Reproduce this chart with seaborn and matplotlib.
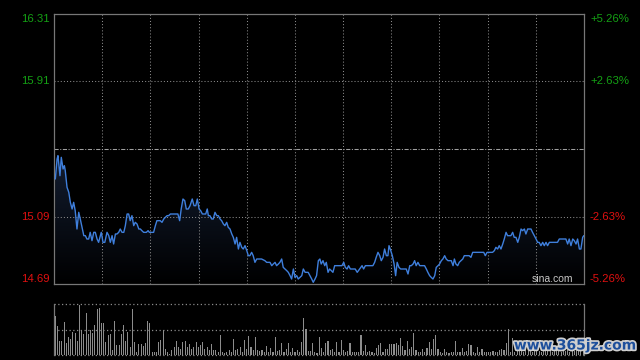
import numpy as np
import pandas as pd
import matplotlib
matplotlib.use("Agg")
import matplotlib.pyplot as plt
import seaborn as sns
from matplotlib.colors import LinearSegmentedColormap
from matplotlib import patheffects as pe

# ---------------- data ----------------
prev_close = 15.50
y_min, y_max = 14.69, 16.31
left_ticks = [16.31, 15.91, 15.09, 14.69]
left_labels = ["16.31", "15.91", "15.09", "14.69"]
right_labels = ["+5.26%", "+2.63%", "-2.63%", "-5.26%"]
label_colors = ["#14a014", "#14a014", "#e01010", "#e01010"]

minute = [
    0.6, 1.4, 1.8, 2.7, 3.3, 4.1, 4.7, 5.1, 5.9, 6.7,
    7.4, 8.2, 8.9, 9.6, 10.4, 11.2, 11.9, 12.7, 13.5, 14.2,
    14.9, 15.7, 16.4, 17.2, 18.0, 18.7, 19.5, 20.2, 21.4, 22.2,
    23.0, 24.0, 24.8, 25.5, 26.3, 27.0, 27.8, 28.5, 29.3, 30.0,
    30.8, 31.6, 32.3, 33.1, 33.8, 34.5, 35.3, 36.1, 36.8, 37.6,
    38.4, 39.1, 39.8, 40.6, 41.8, 42.6, 43.2, 44.4, 45.1, 45.9,
    46.6, 47.4, 48.1, 48.9, 49.7, 50.4, 51.2, 51.9, 52.7, 53.4,
    54.9, 56.1, 56.9, 57.6, 58.4, 59.2, 59.9,
    60.8, 61.6, 62.6, 63.4, 64.2, 64.9, 65.7, 66.4, 67.2, 67.9,
    68.7, 69.4, 69.9, 70.6, 71.4, 72.1, 72.9, 73.7, 74.4, 75.2,
    75.9, 76.7, 77.4, 78.2, 78.9, 79.7, 80.5, 81.2, 82.0, 82.7,
    83.5, 84.2, 85.0, 85.7, 86.5, 87.3, 88.0, 88.7, 89.5, 90.2,
    91.0, 91.8, 92.5, 94.0, 95.5, 96.3, 97.8, 98.6, 99.3, 100.1,
    100.8, 101.6, 102.3, 103.1, 103.8, 104.6, 105.4, 106.1, 106.9, 107.6,
    108.4, 109.1, 109.9, 110.6, 111.4, 112.2, 112.9, 113.7, 114.4, 115.1,
    115.9, 116.7, 117.4, 118.2, 118.9, 119.7, 120.4,
    121.0, 121.8, 122.6, 123.3, 124.1, 124.8, 125.6, 126.3, 127.1, 127.8,
    129.4, 130.4, 131.2, 131.9, 132.7, 133.4, 134.2, 135.4, 136.4, 137.3,
    138.4, 139.5, 140.2, 141.0, 142.2, 143.5, 144.4, 145.2, 145.9, 146.7,
    147.5, 148.2, 149.0, 149.7, 150.5, 151.2, 151.7, 152.5, 153.2, 154.0,
    154.7, 155.4, 156.2, 157.0, 158.0, 159.5, 160.3, 161.1, 161.8, 162.6,
    163.3, 164.0, 164.8, 165.6, 167.1, 167.8, 168.6, 169.3, 170.1, 170.8,
    171.6, 172.4, 173.1, 173.9, 174.6, 175.4, 176.1, 176.9, 177.6, 178.4,
    179.9, 180.7,
    181.3, 182.0, 182.8, 183.5, 184.3, 185.1, 185.8, 186.6, 188.0, 188.8,
    189.6, 190.3, 191.8, 193.3, 194.6, 195.3, 196.1, 197.1, 198.6, 199.4,
    200.1, 200.9, 201.6, 202.4, 203.2, 203.9, 204.7, 205.4, 206.2, 206.9,
    207.7, 208.4, 209.2, 210.0, 210.7, 211.5, 212.2, 213.0, 213.7, 214.5,
    216.0, 216.7, 217.5, 218.3, 219.0, 219.7, 220.5, 221.3, 222.0, 222.8,
    223.5, 224.3, 226.5, 228.0, 228.8, 230.3, 231.8, 232.6, 233.3, 234.1,
    234.9, 235.6, 236.4, 237.1, 237.9, 238.6, 239.4, 239.9,
]
price = [
    15.32, 15.44, 15.46, 15.34, 15.45, 15.38, 15.40, 15.37, 15.27, 15.24,
    15.18, 15.14, 15.18, 15.13, 15.02, 15.12, 15.08, 15.03, 14.98, 14.98,
    14.96, 14.96, 15.00, 14.95, 15.00, 15.00, 14.96, 14.94, 15.00, 14.94,
    14.94, 15.00, 14.98, 14.94, 14.98, 14.93, 14.99, 14.99, 15.00, 15.02,
    15.00, 15.00, 15.04, 15.11, 15.11, 15.07, 15.10, 15.04, 15.06, 15.05,
    15.02, 15.02, 15.01, 15.00, 15.00, 15.01, 15.00, 15.00, 15.00, 15.04,
    15.07, 15.07, 15.07, 15.06, 15.08, 15.09, 15.10, 15.10, 15.11, 15.11,
    15.11, 15.11, 15.07, 15.14, 15.20, 15.19, 15.14,
    15.14, 15.16, 15.20, 15.16, 15.16, 15.20, 15.14, 15.13, 15.11, 15.11,
    15.11, 15.14, 15.10, 15.10, 15.08, 15.08, 15.12, 15.10, 15.10, 15.08,
    15.07, 15.05, 15.04, 15.06, 15.03, 15.02, 14.99, 14.97, 14.93, 14.97,
    14.90, 14.94, 14.91, 14.90, 14.92, 14.89, 14.86, 14.86, 14.88, 14.86,
    14.82, 14.84, 14.84, 14.84, 14.83, 14.82, 14.82, 14.80, 14.81, 14.82,
    14.80, 14.81, 14.82, 14.84, 14.79, 14.78, 14.77, 14.76, 14.74, 14.72,
    14.78, 14.73, 14.74, 14.72, 14.73, 14.74, 14.78, 14.76, 14.76, 14.76,
    14.74, 14.72, 14.70, 14.72, 14.74, 14.83, 14.84,
    14.81, 14.83, 14.80, 14.82, 14.76, 14.78, 14.77, 14.76, 14.80, 14.80,
    14.80, 14.80, 14.82, 14.79, 14.78, 14.80, 14.78, 14.78, 14.78, 14.76,
    14.78, 14.80, 14.78, 14.80, 14.80, 14.80, 14.80, 14.82, 14.85, 14.88,
    14.86, 14.83, 14.85, 14.90, 14.86, 14.86, 14.92, 14.89, 14.86, 14.81,
    14.74, 14.82, 14.79, 14.78, 14.78, 14.78, 14.75, 14.80, 14.80, 14.81,
    14.83, 14.80, 14.82, 14.80, 14.80, 14.80, 14.78, 14.76, 14.74, 14.73,
    14.72, 14.74, 14.79, 14.80, 14.81, 14.83, 14.84, 14.86, 14.84, 14.83,
    14.83, 14.80,
    14.84, 14.81, 14.80, 14.82, 14.83, 14.84, 14.86, 14.86, 14.86, 14.85,
    14.88, 14.88, 14.88, 14.88, 14.88, 14.86, 14.88, 14.88, 14.88, 14.89,
    14.91, 14.90, 14.92, 14.90, 14.93, 14.96, 15.00, 14.98, 14.98, 14.98,
    15.00, 14.97, 14.97, 14.94, 14.97, 15.02, 15.01, 15.02, 14.99, 15.02,
    15.02, 15.00, 14.98, 14.96, 14.94, 14.94, 14.92, 14.94, 14.92, 14.94,
    14.92, 14.94, 14.94, 14.94, 14.96, 14.96, 14.96, 14.93, 14.96, 14.92,
    14.96, 14.95, 14.93, 14.96, 14.90, 14.90, 14.97, 14.98,
]

volume = [
    38.5, 28.5, 13.8, 13.8, 32.5, 11.8, 17.8, 16.2, 22.8, 21.8,
    13.8, 49.5, 25.2, 21.2, 41.8, 21.2, 24.5, 21.8, 29.5, 46.2,
    47.2, 31.8, 31.8, 12.8, 19.5, 21.2, 5.2, 33.8, 9.5, 9.5,
    21.2, 29.5, 13.8, 22.8, 7.8, 45.5, 12.8, 2.8, 10.5, 10.5,
    8.5, 11.8, 33.8, 31.8, 2.8, 2.8, 2.8, 12.8, 15.2, 24.5,
    6.2, 2.8, 1.2, 5.2, 7.8, 13.5, 7.8, 6.2, 12.8, 13.5,
    7.8, 11.2, 6.2, 7.8, 12.8, 7.8, 9.5, 12.8, 6.2, 7.8,
    5.2, 11.2, 5.2, 4.5, 2.8, 19.5, 2.8, 1.8, 2.8, 5.2,
    2.8, 16.2, 4.5, 6.2, 7.8, 2.8, 15.2, 6.2, 18.5, 7.8,
    4.5, 18.0, 5.0, 4.0, 4.7, 3.0, 8.7, 3.0, 6.3, 3.0,
    17.3, 4.0, 4.7, 11.3, 3.0, 6.0, 12.0, 3.0, 6.3, 3.0,
    4.7, 3.0, 13.0, 36.3, 25.3, 4.0, 4.0, 11.3, 3.0, 2.0,
    18.0, 6.3, 3.0, 11.3, 14.0, 4.7, 5.3, 3.0, 13.0, 3.0,
    14.7, 4.7, 3.0, 4.0, 12.0, 3.0, 3.0, 3.0, 3.0, 19.7,
    4.0, 9.7, 3.0, 4.0, 3.0, 2.0, 6.3, 9.7, 12.0, 3.0,
    5.3, 5.3, 10.7, 10.7, 10.7, 11.3, 9.7, 16.3, 8.7, 4.7,
    14.0, 5.3, 8.0, 22.0, 4.7, 3.0, 3.0, 5.3, 3.0, 6.3,
    13.0, 5.3, 15.3, 19.7, 5.3, 3.0, 2.0, 5.3, 3.0, 2.0,
    3.0, 3.0, 14.0, 3.0, 3.0, 6.3, 3.0, 4.0, 10.7, 9.7,
    3.0, 2.0, 8.0, 3.0, 5.3, 3.0, 3.0, 3.0, 3.0, 4.0,
    3.0, 3.0, 4.7, 5.3, 4.7, 11.3, 25.3, 3.0, 16.3, 3.0,
    5.0, 4.0, 8.0, 3.0, 6.0, 4.0, 7.0, 3.0, 5.0, 9.0,
    4.0, 3.0, 6.0, 5.0, 4.0, 8.0, 3.0, 5.0, 4.0, 6.0,
    3.0, 7.0, 4.0, 5.0, 3.0, 6.0, 4.0, 5.0, 8.0, 6.0,
    10.0,
]
vol_minute = list(range(len(volume)))
n_sessions = 240
vol_max = 50.4
vol_mid = 25.0

# ---------------- style ----------------
sns.set_theme(style="dark", rc={"axes.facecolor": "black", "figure.facecolor": "black"})
plt.rcParams["font.family"] = ["Liberation Sans", "DejaVu Sans"]

W, H = 640, 360
fig = plt.figure(figsize=(6.4, 3.6), dpi=100, facecolor="black")
ax = fig.add_axes([54 / W, 1 - 284 / H, 530 / W, 270 / H])
axv = fig.add_axes([54 / W, 1 - 354.7 / H, 530 / W, 50.4 / H])

spine_c = "#777777"
grid_c = "#8a8a8a"
dot = (0, (1, 2))

df = pd.DataFrame({"minute": minute, "price": price})

# gradient fill under the line
poly = ax.fill_between(df["minute"], df["price"], y_min, color="none", lw=0)
grad = np.linspace(0, 1, 256).reshape(-1, 1)
cmap = LinearSegmentedColormap.from_list("g", ["#000000", "#131d31"])
im = ax.imshow(grad, extent=[0, n_sessions, y_min, max(price)], origin="lower",
               aspect="auto", cmap=cmap, zorder=1, interpolation="bilinear")
im.set_clip_path(poly.get_paths()[0], transform=ax.transData)

# grid
for k in range(1, 11):
    ax.axvline(n_sessions * k / 11, color=grid_c, lw=0.75, ls=dot, zorder=2)
for v in (15.91, 15.09):
    ax.axhline(v, color=grid_c, lw=0.75, ls=dot, zorder=2)
ax.axhline(prev_close, color="#a0a0a0", lw=0.75, ls=(0, (4, 1.5, 1, 1.5)), zorder=2)

sns.lineplot(data=df, x="minute", y="price", ax=ax, color="#3f7fdc",
             linewidth=1.0, estimator=None, sort=False, zorder=4)

ax.set_xlim(0, n_sessions)
ax.set_ylim(y_min, y_max)
ax.set_xticks([])
ax.set_yticks([])
ax.set_xlabel("")
ax.set_ylabel("")
ax.grid(False)
for s in ax.spines.values():
    s.set_visible(True)
    s.set_color(spine_c)
    s.set_linewidth(0.9)

vas = ["top", "center", "center", "bottom"]
for val, ll, rl, c, va in zip(left_ticks, left_labels, right_labels, label_colors, vas):
    ax.annotate(ll, xy=(0, val), xycoords=("axes fraction", "data"),
                xytext=(-4, 0), textcoords="offset pixels", ha="right", va=va,
                color=c, fontsize=8.2)
    ax.annotate(rl, xy=(1, val), xycoords=("axes fraction", "data"),
                xytext=(6, 0), textcoords="offset pixels", ha="left", va=va,
                color=c, fontsize=8.2)

ax.annotate("sina.com", xy=(1, 0), xycoords="axes fraction", xytext=(-11, 2),
            textcoords="offset pixels", ha="right", va="baseline",
            color="#c8c8c8", fontsize=7.5, zorder=5)

# volume
axv.bar(vol_minute, volume, width=0.5, color="#8c8c8c", linewidth=0,
        antialiased=False, zorder=3)
axv.set_xlim(-0.6, n_sessions + 0.4)
axv.set_ylim(0, vol_max)
for v in (0, vol_mid, vol_max):
    axv.axhline(v, color=grid_c, lw=0.9, ls=dot, zorder=2, clip_on=False)
axv.set_xticks([])
axv.set_yticks([])
axv.grid(False)
for name, s in axv.spines.items():
    if name in ("left", "right"):
        s.set_visible(True)
        s.set_color(spine_c)
        s.set_linewidth(0.9)
    else:
        s.set_visible(False)

# watermark
fig.text(575 / W, 1 - 345.5 / H, "www.365jz.com", ha="center", va="center",
         fontsize=10, fontweight="bold", color="#1d4f9c", family="DejaVu Sans",
         path_effects=[pe.withStroke(linewidth=2.5, foreground="#cfcfcf")], zorder=10)

fig.savefig("out.png", dpi=100, facecolor="black")
